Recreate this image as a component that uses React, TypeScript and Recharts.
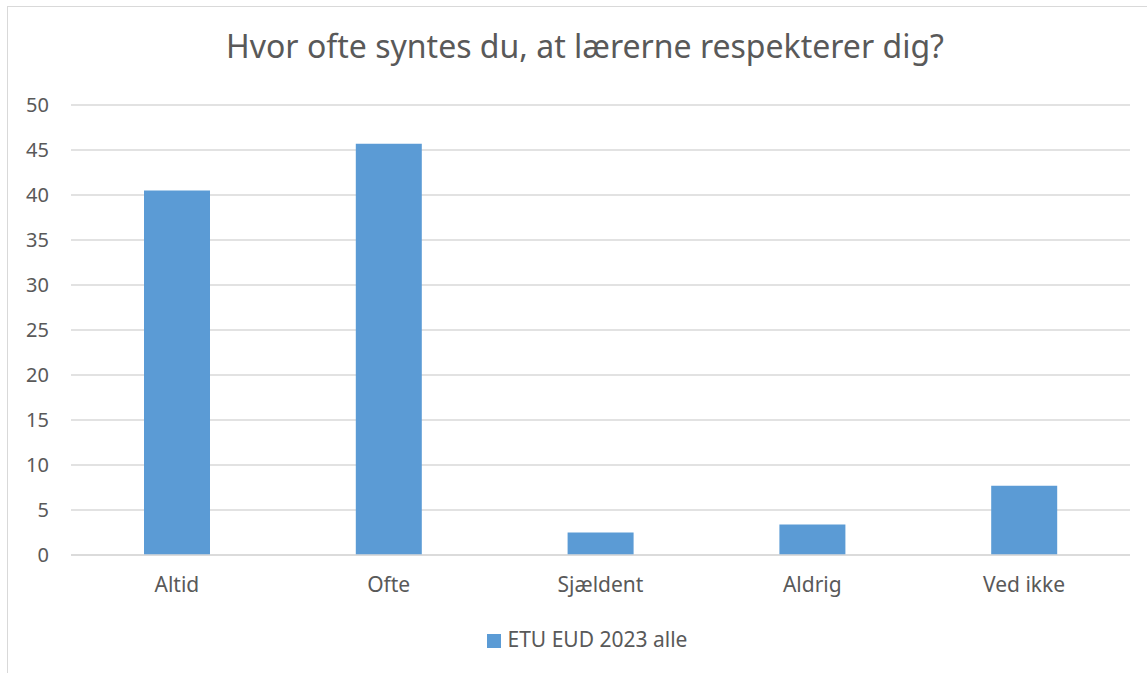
import { Bar, BarChart, CartesianGrid, Legend, XAxis, YAxis } from "recharts";

const categories = ["Altid", "Ofte", "Sjældent", "Aldrig", "Ved ikke"];
const values = [40.5, 45.7, 2.5, 3.4, 7.7];
const yTicks = [0, 5, 10, 15, 20, 25, 30, 35, 40, 45, 50];

const seriesName = "ETU EUD 2023 alle";
const font = "'Noto Sans', sans-serif";
const textColor = "#595959";

const data = categories.map((c, i) => ({ name: c, value: values[i] }));

export default function App() {
  return (
    <div style={{ position: "absolute", left: 0, top: 0, width: 1147, height: 673, background: "#fff", overflow: "hidden", fontFamily: font }}>
      <div
        style={{
          position: "absolute",
          left: 7,
          top: 6,
          width: 1160,
          height: 700,
          border: "1px solid #d9d9d9",
          boxSizing: "border-box",
        }}
      />
      <div
        style={{
          position: "absolute",
          left: 0,
          width: 1170,
          top: 24,
          textAlign: "center",
          fontSize: 32,
          color: textColor,
        }}
      >
        Hvor ofte syntes du, at lærerne respekterer dig?
      </div>
      <div style={{ position: "absolute", left: 0, top: 0 }}>
        <BarChart width={1147} height={673} data={data} margin={{ top: 105, right: 17, bottom: 0, left: 0 }}>
          <CartesianGrid vertical={false} stroke="#d9d9d9" strokeWidth={1.5} />
          <XAxis
            dataKey="name"
            axisLine={{ stroke: "#d9d9d9", strokeWidth: 1.5 }}
            tickLine={false}
            tickSize={0}
            tickMargin={22}
            height={58}
            tick={{ fill: textColor, fontSize: 21, fontFamily: font }}
          />
          <YAxis
            domain={[0, 50]}
            ticks={yTicks}
            interval={0}
            axisLine={false}
            tickLine={false}
            tickSize={0}
            tickMargin={22}
            width={71}
            tick={{ fill: textColor, fontSize: 20, fontFamily: font }}
          />
          <Legend
            verticalAlign="bottom"
            iconType="square"
            iconSize={14}
            height={48}
            wrapperStyle={{ fontFamily: font, fontSize: 21, paddingTop: 12, paddingLeft: 27 }}
            formatter={(v) => <span style={{ color: textColor, marginLeft: 3 }}>{v}</span>}
          />
          <Bar dataKey="value" name={seriesName} fill="#5b9bd5" barSize={66} isAnimationActive={false} />
        </BarChart>
      </div>
    </div>
  );
}
